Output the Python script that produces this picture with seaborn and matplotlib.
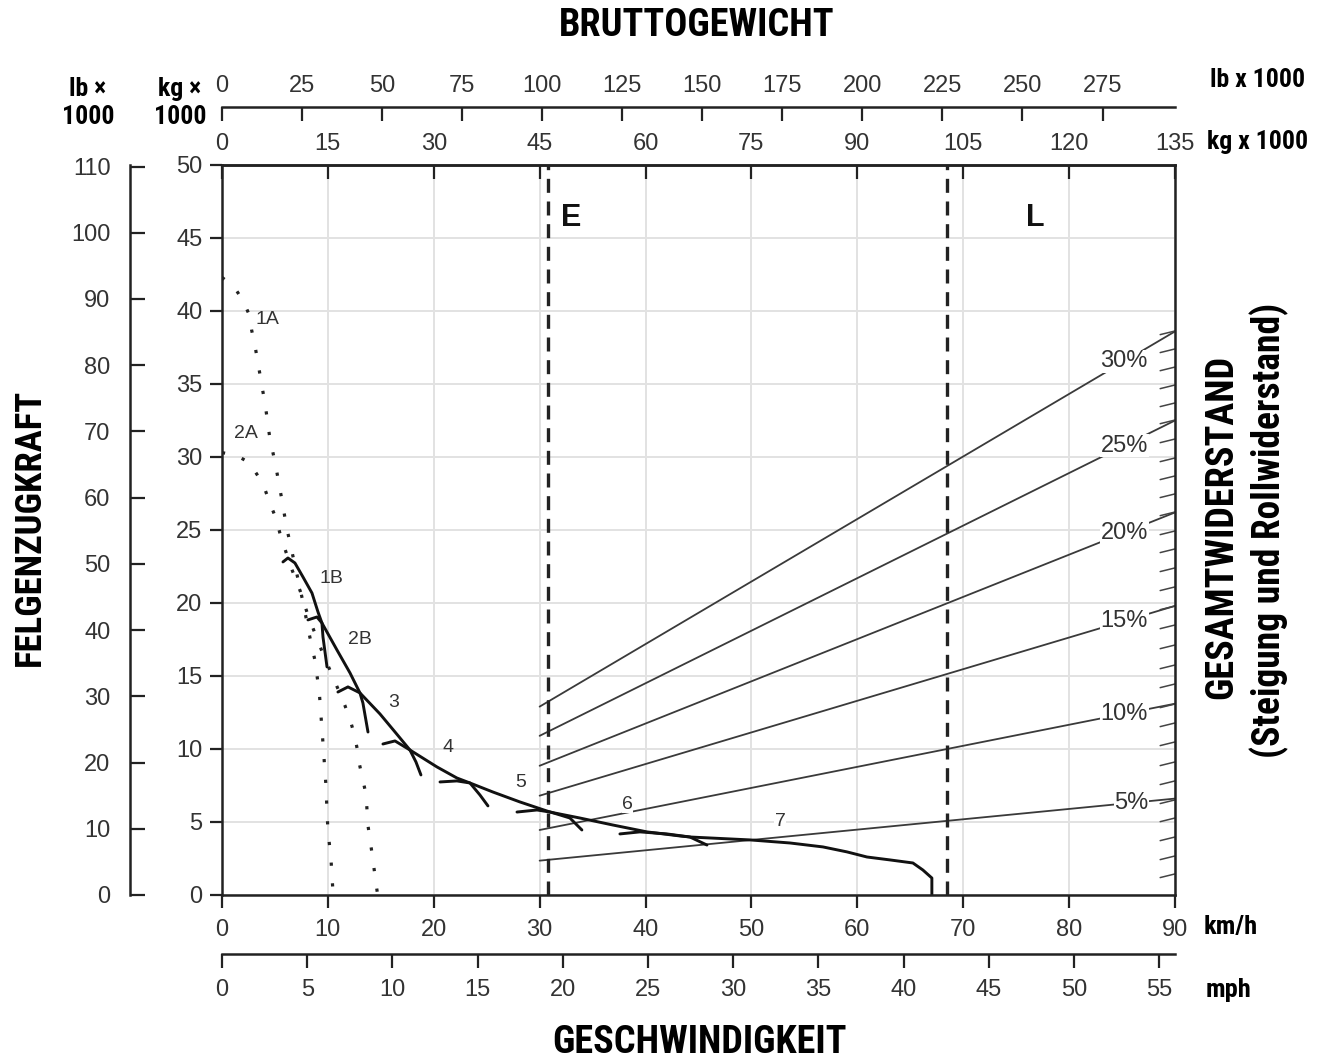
import numpy as np
import pandas as pd
import matplotlib
matplotlib.use('Agg')
import matplotlib.pyplot as plt
import seaborn as sns

# rimpull per gear: speed (km/h) vs force (kg x 1000)
gear_1a_x = [0, 1.1, 2.0, 2.6, 2.8, 3.1, 3.6, 4.1, 4.5, 5.1, 5.6, 6.1, 6.4, 7.1, 7.7, 8.2, 8.8, 9.2, 9.5, 9.8, 10.0, 10.3, 10.5]
gear_1a_y = [42.3, 41.7, 40.7, 39.7, 38.7, 37.7, 35.6, 33.5, 31.4, 29.3, 27.3, 25.2, 24.2, 21.9, 19.9, 18.0, 16.0, 13.8, 10.8, 7.7, 4.5, 2.4, 0.0]
gear_2a_x = [0, 1.4, 2.6, 3.4, 4.1, 4.6, 5.1, 5.5, 5.9, 6.6, 7.4, 8.1, 8.9, 9.6, 10.5, 11.6, 12.1, 12.5, 12.8, 13.0, 13.3, 13.6, 13.8, 14.0, 14.2, 14.4, 14.7]
gear_2a_y = [30.3, 30.1, 29.6, 28.7, 27.7, 26.7, 25.8, 24.7, 23.8, 22.3, 20.8, 19.2, 17.7, 16.4, 14.9, 13.0, 12.0, 11.0, 9.9, 8.9, 7.9, 6.9, 4.7, 3.7, 2.7, 1.6, 0.0]

gear_1b_x = [5.76, 6.23, 6.89, 7.65, 8.50, 9.07, 9.44, 9.54, 9.92]
gear_1b_y = [22.81, 23.08, 22.74, 21.78, 20.68, 19.38, 18.63, 17.67, 15.62]
gear_2b_x = [8.12, 8.97, 9.44, 10.86, 12.09, 13.03, 13.31, 13.79]
gear_2b_y = [18.84, 19.04, 18.63, 16.78, 15.21, 13.84, 13.15, 11.16]
gear_3_x = [10.95, 11.90, 13.03, 14.92, 16.3, 17.75, 18.32, 18.79]
gear_3_y = [13.90, 14.25, 13.84, 12.40, 11.2, 9.93, 9.11, 8.22]
gear_4_x = [15.20, 16.34, 17.75, 20.30, 22.19, 23.42, 24.36, 25.12]
gear_4_y = [10.34, 10.55, 9.93, 8.77, 8.01, 7.67, 6.85, 6.10]
gear_5_x = [20.59, 22.19, 23.42, 25.59, 28.14, 30.69, 31.92, 32.86, 33.99]
gear_5_y = [7.74, 7.81, 7.67, 7.05, 6.37, 5.75, 5.48, 5.27, 4.45]
gear_6_x = [27.86, 29.75, 30.97, 33.80, 36.92, 40.13, 43.25, 44.19, 45.80]
gear_6_y = [5.68, 5.82, 5.68, 5.27, 4.79, 4.32, 4.04, 3.97, 3.42]
gear_7_x = [37.58, 39.47, 42.02, 44.19, 49.86, 53.64, 56.75, 59.02, 60.91, 63.08, 65.25, 66.19, 67.04, 67.04]
gear_7_y = [4.18, 4.32, 4.18, 3.97, 3.77, 3.56, 3.29, 2.95, 2.60, 2.40, 2.19, 1.71, 1.16, 0.0]

gear_names = ['1B', '2B', '3', '4', '5', '6', '7']
gear_label_x = [10.3, 13.0, 16.2, 21.3, 28.2, 38.3, 52.7]
gear_label_y = [21.7, 17.5, 13.2, 10.1, 7.7, 6.2, 5.0]
dotted_names = ['1A', '2A']
dotted_label_x = [4.3, 2.3]
dotted_label_y = [39.4, 31.6]

# total resistance lines (grade + rolling)
grade_pct = [5, 10, 15, 20, 25, 30]
grade_x = [30, 90]
grade_start = [2.35, 4.45, 6.8, 8.85, 10.9, 12.9]
grade_end = [6.6, 13.1, 19.8, 26.2, 32.5, 38.6]
resist_marks = [1.44, 2.67, 3.97, 5.27, 6.51, 7.81, 9.11, 10.48, 11.78, 13.08, 14.45, 15.75,
                17.12, 18.49, 19.79, 21.10, 22.40, 23.70, 24.93, 26.23, 27.47, 28.70, 29.93,
                31.23, 32.53, 33.70, 34.93, 36.16, 37.40, 38.63]

limit_names = ['E', 'L']
limit_speed = [30.8, 68.5]

kmh_ticks = list(range(0, 91, 10))
kg_force_ticks = list(range(0, 51, 5))
lb_force_ticks = list(range(0, 111, 10))
kg_weight_ticks = list(range(0, 136, 15))
lb_weight_ticks = list(range(0, 276, 25))
mph_ticks = list(range(0, 56, 5))

LB = 2.20462
MPH = 1.609344

sns.set_theme(style='white')
plt.rcParams['font.family'] = ['Liberation Sans', 'DejaVu Sans']
COND = ['Roboto Condensed', 'Liberation Sans Narrow', 'Roboto', 'DejaVu Sans']
TXT = '#333333'

solid = []
for name, xs, ys in zip(gear_names,
                        [gear_1b_x, gear_2b_x, gear_3_x, gear_4_x, gear_5_x, gear_6_x, gear_7_x],
                        [gear_1b_y, gear_2b_y, gear_3_y, gear_4_y, gear_5_y, gear_6_y, gear_7_y]):
    solid.append(pd.DataFrame({'speed': xs, 'force': ys, 'gear': name}))
solid_df = pd.concat(solid, ignore_index=True)

dotted_df = pd.concat([
    pd.DataFrame({'speed': gear_1a_x, 'force': gear_1a_y, 'gear': '1A'}),
    pd.DataFrame({'speed': gear_2a_x, 'force': gear_2a_y, 'gear': '2A'}),
], ignore_index=True)

grade_rows = []
for p, s, e in zip(grade_pct, grade_start, grade_end):
    grade_rows.append({'speed': grade_x[0], 'force': s, 'grade': p})
    grade_rows.append({'speed': grade_x[1], 'force': e, 'grade': p})
grade_df = pd.DataFrame(grade_rows)

fig = plt.figure(figsize=(13.22, 10.61), dpi=100)
ax = fig.add_axes([0.1679, 0.1565, 0.7209, 0.688])

sns.lineplot(data=grade_df, x='speed', y='force', units='grade', estimator=None, sort=False,
             color='#3a3a3a', lw=1.3, ax=ax, legend=False)
sns.lineplot(data=dotted_df, x='speed', y='force', units='gear', estimator=None, sort=False,
             color='#222222', lw=2.3, linestyle=(0, (1, 5.5)), ax=ax, legend=False)
sns.lineplot(data=solid_df, x='speed', y='force', units='gear', estimator=None, sort=False,
             color='#111111', lw=2.1, ax=ax, legend=False)

for v in limit_speed:
    ax.axvline(v, color='#222222', lw=2.4, linestyle=(0, (4.2, 2.6)))
for name, v in zip(limit_names, limit_speed):
    ax.text(v + 2.2 if name == 'E' else v + 8.3, 46.4, name, fontsize=22, fontweight='bold',
            color='#111111', ha='center', va='center')

# resistance scale marks on the right edge
for v in resist_marks:
    ax.plot([88.6, 90], [v - 0.25, v], color='#444444', lw=1.1)

lab_x = 85.2
for p, s, e in zip(grade_pct, grade_start, grade_end):
    lx = lab_x + (0.7 if p == 5 else 0)
    ly = np.interp(lx, grade_x, [s, e])
    ax.text(lx, ly, f'{p}%', fontsize=17, color=TXT, ha='center', va='center',
            bbox=dict(facecolor='white', edgecolor='none', pad=0.5))

for name, x, y in zip(gear_names, gear_label_x, gear_label_y):
    ax.text(x, y, name, fontsize=14, color=TXT, ha='center', va='center',
            bbox=dict(facecolor='white', edgecolor='none', pad=0.3) if name in ('6', '7') else None)
for name, x, y in zip(dotted_names, dotted_label_x, dotted_label_y):
    ax.text(x, y, name, fontsize=14, color=TXT, ha='center', va='center')

ax.set_xlim(0, 90)
ax.set_ylim(0, 50)
ax.set_xticks(kmh_ticks)
ax.set_yticks(kg_force_ticks)
ax.set_xlabel('')
ax.set_ylabel('')
ax.grid(True, color='#e2e2e2', lw=1.4)
ax.set_axisbelow(True)
ax.tick_params(axis='x', bottom=True, direction='out', length=9, width=1.6, pad=8,
               labelsize=17, labelcolor=TXT, color='#222222')
ax.tick_params(axis='y', left=True, direction='out', length=9, width=1.6, pad=5,
               labelsize=17, labelcolor=TXT, color='#222222')
for s in ax.spines.values():
    s.set_visible(True)
    s.set_color('#222222')
    s.set_linewidth(1.8)

top_kg = ax.secondary_xaxis('top', functions=(lambda v: v * 1.5, lambda v: v / 1.5))
top_kg.set_xticks(kg_weight_ticks)
top_kg.tick_params(direction='in', length=10, width=1.6, pad=7, labelsize=17,
                   labelcolor=TXT, color='#222222')

top_lb = ax.secondary_xaxis(1.0795, functions=(lambda v: v * 1.5 * LB, lambda v: v / (1.5 * LB)))
top_lb.set_xticks(lb_weight_ticks)
top_lb.tick_params(direction='in', length=10, width=1.6, pad=7, labelsize=17,
                   labelcolor=TXT, color='#222222')

bot_mph = ax.secondary_xaxis(-0.0808, functions=(lambda v: v / MPH, lambda v: v * MPH))
bot_mph.set_xticks(mph_ticks)
bot_mph.tick_params(direction='out', length=10, width=1.6, pad=8, labelsize=17,
                    labelcolor=TXT, color='#222222')

left_lb = ax.secondary_yaxis(-0.0965, functions=(lambda v: v * LB, lambda v: v / LB))
left_lb.set_yticks(lb_force_ticks)
left_lb.tick_params(direction='in', length=11, width=1.6, pad=14, labelsize=17,
                    labelcolor=TXT, color='#222222')

for sec in (top_kg, top_lb, bot_mph, left_lb):
    sec.patch.set_visible(False)
    sec.set_zorder(5)
    for s in sec.spines.values():
        s.set_color('#222222')
        s.set_linewidth(1.8)

bold = dict(family=COND, fontweight='bold', color='black')
fig.text(0.527, 0.976, 'BRUTTOGEWICHT', fontsize=27.5, ha='center', va='center', **bold)
fig.text(0.529, 0.017, 'GESCHWINDIGKEIT', fontsize=27.5, ha='center', va='center', **bold)
fig.text(0.0227, 0.503, 'FELGENZUGKRAFT', fontsize=26.5, rotation=90, ha='center', va='center', **bold)
fig.text(0.9244, 0.503, 'GESAMTWIDERSTAND', fontsize=27.5, rotation=90, ha='center', va='center', **bold)
fig.text(0.960, 0.500, '(Steigung und Rollwiderstand)', fontsize=27, rotation=90,
         ha='center', va='center', **bold)
fig.text(0.0666, 0.903, 'lb ×\n1000', fontsize=18.5, ha='center', va='center', linespacing=1.25, **bold)
fig.text(0.136, 0.903, 'kg ×\n1000', fontsize=18.5, ha='center', va='center', linespacing=1.25, **bold)
fig.text(0.951, 0.925, 'lb x 1000', fontsize=18.5, ha='center', va='center', **bold)
fig.text(0.951, 0.866, 'kg x 1000', fontsize=18.5, ha='center', va='center', **bold)
fig.text(0.931, 0.126, 'km/h', fontsize=19, ha='center', va='center', **bold)
fig.text(0.929, 0.067, 'mph', fontsize=19, ha='center', va='center', **bold)

fig.savefig('out.png', dpi=100)
